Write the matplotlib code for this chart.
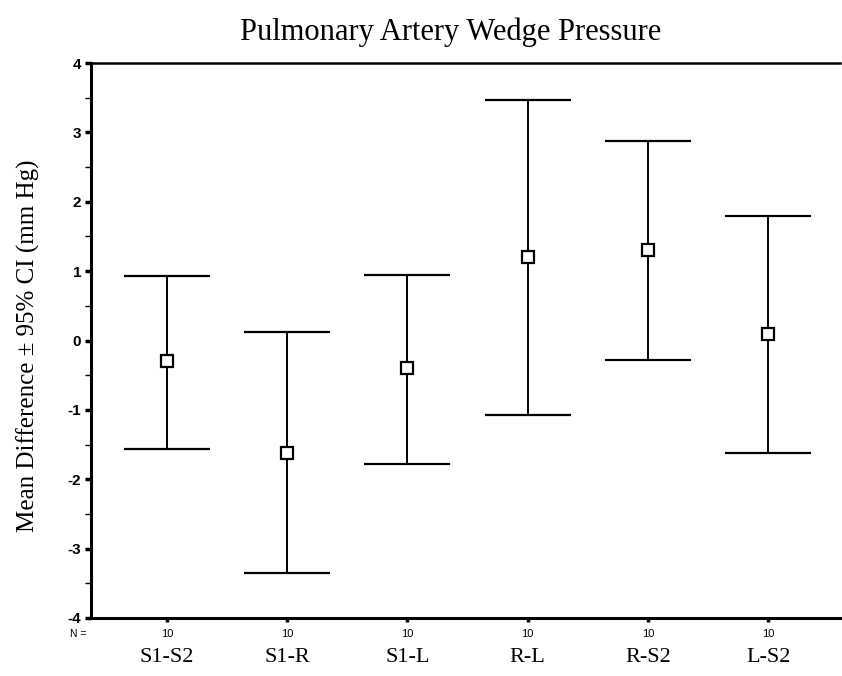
import matplotlib
matplotlib.use("Agg")
import matplotlib.pyplot as plt
import matplotlib.transforms as mtransforms
import numpy as np

# data
pairs = ["S1-S2", "S1-R", "S1-L", "R-L", "R-S2", "L-S2"]
n_obs = [10, 10, 10, 10, 10, 10]
mean_diff = [-0.3, -1.62, -0.4, 1.2, 1.3, 0.1]
ci_upper = [0.93, 0.12, 0.95, 3.47, 2.88, 1.8]
ci_lower = [-1.57, -3.35, -1.78, -1.07, -0.28, -1.62]

fig = plt.figure(figsize=(8.42, 6.76), dpi=100)
ax = fig.add_axes([0.108, 0.0858, 0.89, 0.821])

x = np.arange(len(pairs))
mean_diff = np.array(mean_diff)
yerr = [mean_diff - np.array(ci_lower), np.array(ci_upper) - mean_diff]

ax.errorbar(x, mean_diff, yerr=yerr, fmt="s", color="black", ecolor="black",
            elinewidth=1.4, capsize=31, capthick=2.0, markersize=8,
            markerfacecolor="white", markeredgewidth=1.6, zorder=3)

ax.set_xlim(-0.632, 5.6)
ax.set_ylim(-4, 4)
ax.set_yticks(np.arange(-4, 5, 1))
ax.set_yticks(np.arange(-3.5, 4, 1), minor=True)
ax.set_yticklabels([str(v) for v in range(-4, 5)],
                   fontfamily="Liberation Sans", fontweight="bold", fontsize=11)
ax.tick_params(axis="y", which="major", direction="out", length=4, width=2.5, pad=3)
ax.tick_params(axis="y", which="minor", direction="out", length=4, width=1)

ax.set_xticks(x)
ax.set_xticklabels([str(n) for n in n_obs], fontfamily="Liberation Sans", fontsize=8)
ax.tick_params(axis="x", direction="out", length=3, width=2.5, pad=5)

ax.spines["right"].set_visible(False)
for side in ["left", "bottom"]:
    ax.spines[side].set_linewidth(2.2)
ax.spines["top"].set_linewidth(1.8)

trans = mtransforms.blended_transform_factory(ax.transData, fig.transFigure)
for xi, name in zip(x, pairs):
    ax.text(xi, 1 - 658 / 676, name, transform=trans, ha="center", va="center",
            fontfamily="Liberation Serif", fontsize=16)
fig.text(78 / 842, 1 - 634 / 676, "N =", ha="center", va="center",
         fontfamily="Liberation Sans", fontsize=7.5)

ax.set_ylabel("Mean Difference \u00b1 95% CI (mm Hg)", fontfamily="Liberation Serif",
              fontsize=18)
ax.yaxis.set_label_coords(-0.068, 0.49)
fig.text(0.535, 1 - 32 / 676, "Pulmonary Artery Wedge Pressure", ha="center",
         va="center", fontfamily="Liberation Serif", fontsize=22)

plt.savefig("out.png", dpi=100)
